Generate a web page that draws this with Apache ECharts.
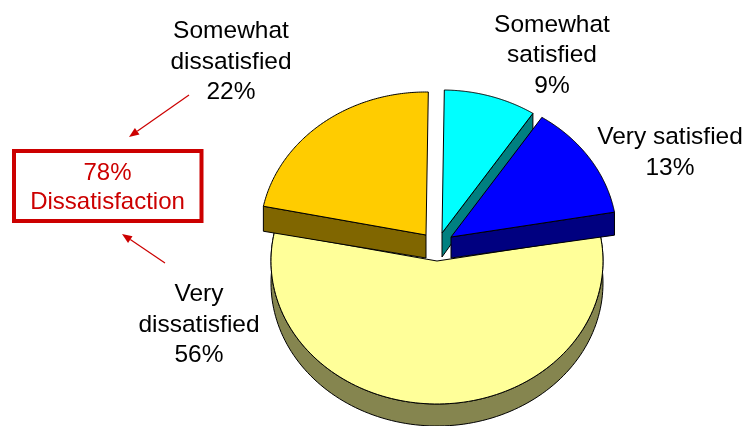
<!DOCTYPE html>
<html>
<head>
<meta charset="utf-8">
<style>html,body{margin:0;padding:0;background:#fff}#c{width:744px;height:426px}</style>
<script src="https://cdn.jsdelivr.net/npm/echarts@6/dist/echarts.min.js"></script>
</head>
<body>
<div id="c"></div>
<script>
// --- data ---
var categories = ['Very\ndissatisfied', 'Somewhat\ndissatisfied', 'Somewhat\nsatisfied', 'Very satisfied'];
var values = [56, 22, 9, 13];
var calloutValue = values[0] + values[1];
var calloutName = 'Dissatisfaction';

// --- colours ---
var topColors = ['#FFFF99', '#FFCC00', '#00FFFF', '#0000FF'];
var wallColors = ['#85854F', '#806600', '#008080', '#000080'];
var red = '#CC0000';

// --- layout of the tilted pie ---
var CX = 437, CY = 261, RX = 166, RY = 143, START = 80;
var sliceOffsetX = [0, -11, 5, 14];
var sliceOffsetY = [0, -26, -28, -24];
var apexDepth = [22, 23, 24, 21];
var rimDepth = [22, 25, 16, 23];
var visibleWall = ['rim', 'start', 'end', 'end'];
var labelX = [199, 231, 552, 670];
var labelY = [325, 62, 55.5, 152.5];
var FONT = '24.5px "Liberation Sans", Arial, sans-serif';
var BOXFONT = '24px "Liberation Sans", Arial, sans-serif';
var LINE = 30.5;

function renderSlice(params, api) {
  var i = params.dataIndex;
  var total = values.reduce(function (a, b) { return a + b; }, 0);
  var before = values.slice(0, i).reduce(function (a, b) { return a + b; }, 0);
  var a0 = START + before / total * 360;
  var a1 = a0 + api.value(0) / total * 360;
  var ox = CX + sliceOffsetX[i], oy = CY + sliceOffsetY[i];
  var arc = [], n = 120;
  for (var k = 0; k <= n; k++) {
    var t = (a0 + (a1 - a0) * k / n) * Math.PI / 180;
    arc.push([ox + RX * Math.sin(t), oy - RY * Math.cos(t)]);
  }
  var line = { stroke: '#000', lineWidth: 1, lineJoin: 'round' };
  var shift = function (p) { return [p[0], p[1] + rimDepth[i]]; };
  var wallStyle = Object.assign({ fill: wallColors[i] }, line);
  var children = [];
  if (visibleWall[i] === 'rim') {
    children.push({
      type: 'polygon', silent: true,
      shape: { points: arc.concat(arc.slice().reverse().map(shift)) },
      style: wallStyle
    });
  } else {
    var corner = visibleWall[i] === 'start' ? arc[0] : arc[n];
    children.push({
      type: 'polygon', silent: true,
      shape: { points: [[ox, oy], corner, shift(corner), [ox, oy + apexDepth[i]]] },
      style: wallStyle
    });
  }
  children.push({
    type: 'polygon', silent: true,
    shape: { points: [[ox, oy]].concat(arc) },
    style: Object.assign({ fill: topColors[i] }, line)
  });
  return { type: 'group', children: children };
}

function renderLabel(params, api) {
  var i = params.dataIndex;
  return {
    type: 'text', silent: true,
    style: {
      x: labelX[i], y: labelY[i],
      text: categories[i] + '\n' + api.value(0) + '%',
      font: FONT, fill: '#000', align: 'center', verticalAlign: 'middle',
      lineHeight: LINE
    }
  };
}

function arrow(x0, y0, x1, y1) {
  var ang = Math.atan2(y1 - y0, x1 - x0), L = 10, W = 4;
  var bx = x1 - L * Math.cos(ang), by = y1 - L * Math.sin(ang);
  var nx = -Math.sin(ang) * W, ny = Math.cos(ang) * W;
  return [
    { type: 'line', silent: true, shape: { x1: x0, y1: y0, x2: bx, y2: by }, style: { stroke: red, lineWidth: 1.2 } },
    { type: 'polygon', silent: true, shape: { points: [[x1, y1], [bx + nx, by + ny], [bx - nx, by - ny]] }, style: { fill: red } }
  ];
}

var chart = echarts.init(document.getElementById('c'), null, { renderer: 'canvas' });
chart.setOption({
  animation: false,
  backgroundColor: '#fff',
  series: [
    { type: 'custom', coordinateSystem: 'none', silent: true, renderItem: renderSlice, data: values.map(function (v) { return [v]; }), z: 2 },
    { type: 'custom', coordinateSystem: 'none', silent: true, renderItem: renderLabel, data: values.map(function (v) { return [v]; }), z: 3 }
  ],
  graphic: [
    { type: 'rect', silent: true, shape: { x: 14, y: 151, width: 187.5, height: 70 }, style: { fill: '#fff', stroke: red, lineWidth: 4 } },
    { type: 'text', silent: true, style: { x: 107.5, y: 187.5, text: calloutValue + '%\n' + calloutName, font: BOXFONT, fill: red, align: 'center', verticalAlign: 'middle', lineHeight: 29 } }
  ].concat(arrow(189, 95, 129, 137), arrow(165, 263, 122, 234))
});
</script>
</body>
</html>
